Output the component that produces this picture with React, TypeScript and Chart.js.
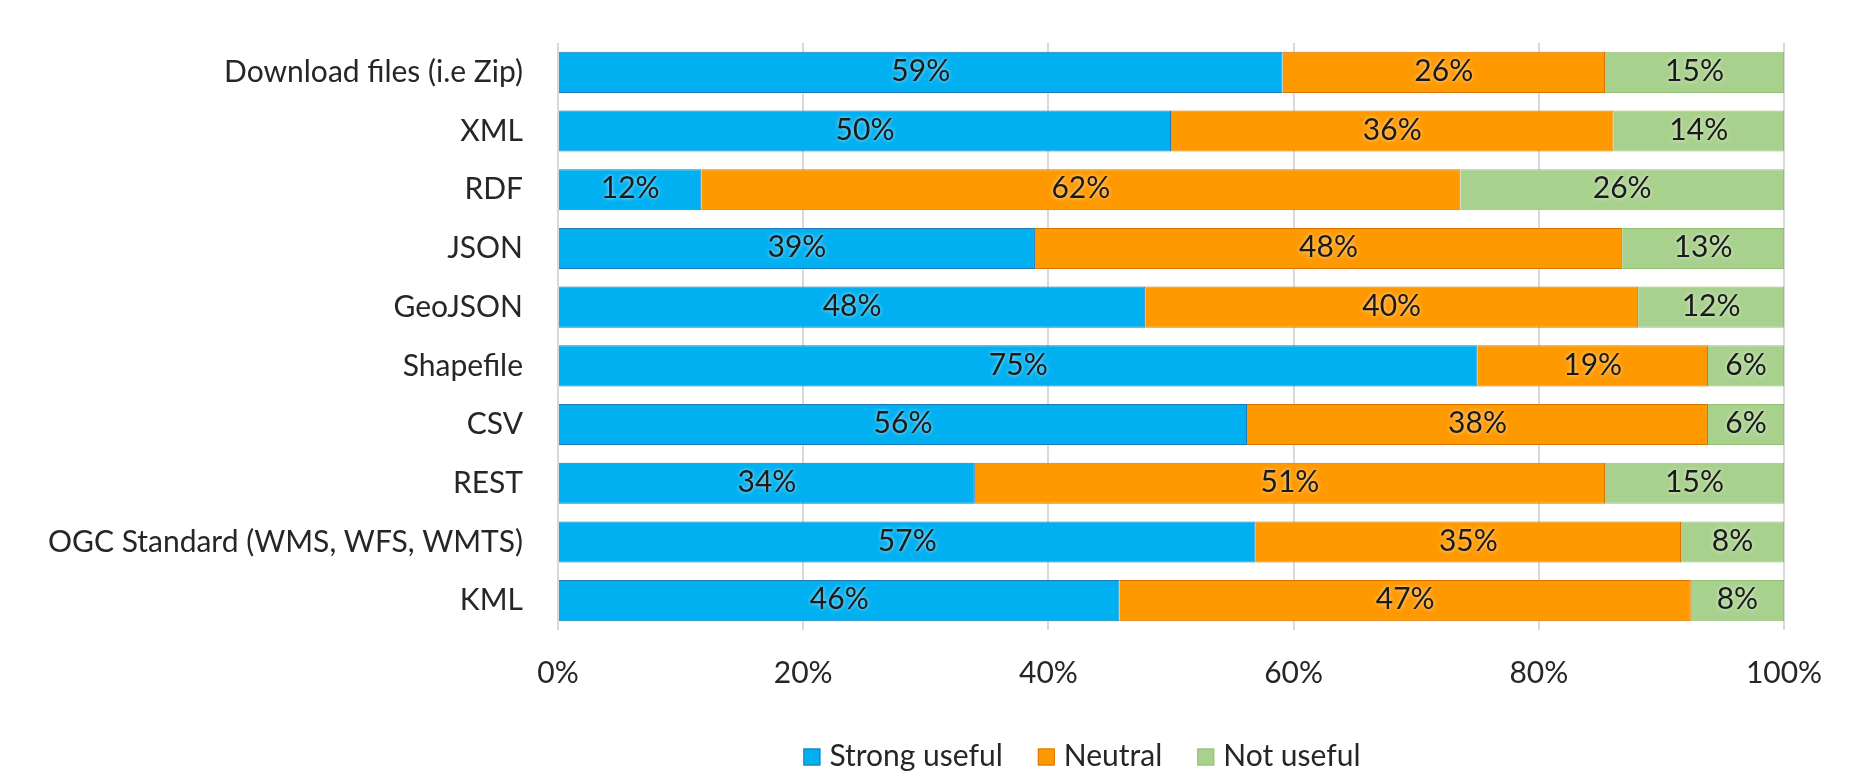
import React, { useEffect, useRef } from "react";
import { Chart, registerables } from "chart.js";

Chart.register(...registerables);

const categories = [
  "Download files (i.e Zip)",
  "XML",
  "RDF",
  "JSON",
  "GeoJSON",
  "Shapefile",
  "CSV",
  "REST",
  "OGC Standard (WMS, WFS, WMTS)",
  "KML",
];

const strongUseful = [59.1, 50.0, 11.7, 38.9, 47.9, 75.0, 56.2, 34.0, 56.9, 45.8];
const neutral = [26.3, 36.1, 61.9, 47.9, 40.2, 18.8, 37.6, 51.4, 34.7, 46.6];
const notUseful = [14.6, 13.9, 26.4, 13.2, 11.9, 6.2, 6.2, 14.6, 8.4, 7.6];

const seriesLabels = ["Strong useful", "Neutral", "Not useful"];
const xTickValues = [0, 20, 40, 60, 80, 100];

const FONT = "Lato, 'Open Sans', sans-serif";
const TEXT = "#262626";

const dataLabelPlugin = {
  id: "barValueLabels",
  afterDatasetsDraw(chart: any) {
    const ctx = chart.ctx;
    ctx.save();
    ctx.font = `30px ${FONT}`;
    ctx.textAlign = "center";
    ctx.textBaseline = "middle";
    ctx.fillStyle = "#1a1a1a";
    ctx.shadowColor = "rgba(255,255,255,0.7)";
    ctx.shadowBlur = 4;
    chart.data.datasets.forEach((ds: any, di: number) => {
      const meta = chart.getDatasetMeta(di);
      meta.data.forEach((el: any, i: number) => {
        const v = ds.data[i];
        const p = el.getProps(["x", "y", "base"], true);
        ctx.fillText(Math.round(v) + "%", (p.x + p.base) / 2, p.y - 1);
      });
    });
    ctx.restore();
  },
};

const legendPlugin = {
  id: "customLegend",
  afterDraw(chart: any, _args: any, opts: any) {
    const ctx = chart.ctx;
    ctx.save();
    ctx.font = `${opts.fontSize}px ${FONT}`;
    const items = chart.data.datasets.map((ds: any) => ({
      text: ds.label,
      color: ds.backgroundColor,
      border: ds.borderColor,
    }));
    const box = opts.boxSize;
    const gap = opts.boxGap;
    const spacing = opts.itemSpacing;
    const widths = items.map((it: any) => box + gap + ctx.measureText(it.text).width);
    const total = widths.reduce((a: number, b: number) => a + b, 0) + spacing * (items.length - 1);
    let x = opts.centerX - total / 2;
    const y = opts.y;
    ctx.textBaseline = "middle";
    ctx.textAlign = "left";
    items.forEach((it: any, i: number) => {
      ctx.fillStyle = it.color;
      ctx.fillRect(x, y - box / 2, box, box);
      ctx.strokeStyle = it.border;
      ctx.lineWidth = 1;
      ctx.strokeRect(x + 0.5, y - box / 2 + 0.5, box - 1, box - 1);
      ctx.fillStyle = opts.color;
      ctx.fillText(it.text, x + box + gap, y - 1);
      x += widths[i] + spacing;
    });
    ctx.restore();
  },
};

export default function App() {
  const ref = useRef<HTMLCanvasElement | null>(null);

  useEffect(() => {
    document.documentElement.style.overflow = "hidden";
    document.body.style.overflow = "hidden";
    if (!ref.current) return;
    const chart = new Chart(ref.current, {
      type: "bar",
      data: {
        labels: categories,
        datasets: [
          {
            label: seriesLabels[0],
            data: strongUseful,
            backgroundColor: "#00B0F0",
            borderColor: "#1F77B4",
            borderWidth: 1,
          },
          {
            label: seriesLabels[1],
            data: neutral,
            backgroundColor: "#FF9900",
            borderColor: "#D97400",
            borderWidth: 1,
          },
          {
            label: seriesLabels[2],
            data: notUseful,
            backgroundColor: "#A9D18E",
            borderColor: "#93BF76",
            borderWidth: 1,
          },
        ],
      },
      options: {
        indexAxis: "y",
        responsive: false,
        animation: false,
        layout: { padding: { top: 35, right: 65, left: 0, bottom: 0 } },
        datasets: {
          bar: { barPercentage: 0.7, categoryPercentage: 1 },
        },
        scales: {
          x: {
            stacked: true,
            min: 0,
            max: 100,
            afterBuildTicks(scale: any) {
              scale.ticks = xTickValues.map((v) => ({ value: v }));
            },
            afterFit(scale: any) {
              scale.height = 143;
              scale.paddingLeft = 0;
              scale.paddingRight = 0;
            },
            ticks: {
              padding: 25,
              color: TEXT,
              font: { family: FONT, size: 30 },
              callback: (v: any) => v + "%",
            },
            grid: { color: "#D9D9D9", lineWidth: 2, drawTicks: false },
            border: { display: false },
          },
          y: {
            stacked: true,
            afterFit(scale: any) {
              scale.width = 550;
              scale.paddingTop = 0;
              scale.paddingBottom = 0;
            },
            ticks: {
              padding: 35,
              color: TEXT,
              font: { family: FONT, size: 30 },
            },
            grid: { display: false, drawTicks: false },
            border: { display: false },
          },
        },
        plugins: {
          legend: { display: false },
          tooltip: { enabled: false },
          customLegend: {
            centerX: 1074,
            y: 749,
            boxSize: 17,
            boxGap: 9,
            itemSpacing: 35,
            fontSize: 30,
            color: TEXT,
          },
        } as any,
      },
      plugins: [dataLabelPlugin, legendPlugin],
    } as any);
    return () => chart.destroy();
  }, []);

  return (
    <div style={{ width: 1841, height: 765, overflow: "hidden" }}>
      <canvas ref={ref} width={1841} height={765} style={{ display: "block" }} />
    </div>
  );
}
